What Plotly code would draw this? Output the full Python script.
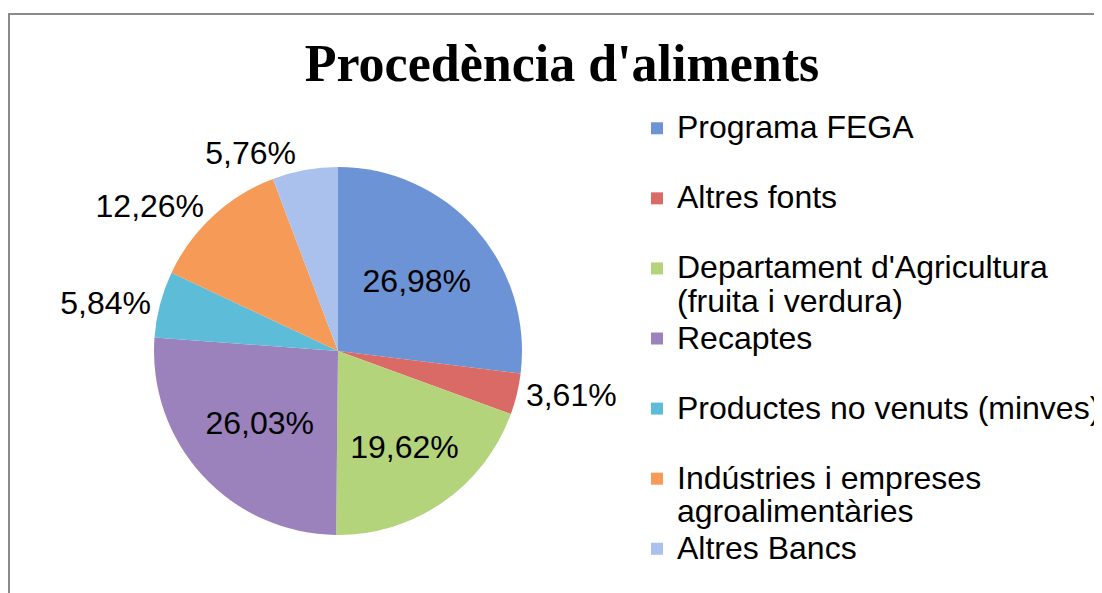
import plotly.graph_objects as go

categories = [
    "Programa FEGA",
    "Altres fonts",
    "Departament d'Agricultura (fruita i verdura)",
    "Recaptes",
    "Productes no venuts (minves)",
    "Indústries i empreses agroalimentàries",
    "Altres Bancs",
]
legend_lines = [
    ["Programa FEGA", " "],
    ["Altres fonts", " "],
    ["Departament d'Agricultura", "(fruita i verdura)"],
    ["Recaptes", " "],
    ["Productes no venuts (minves)", " "],
    ["Indústries i empreses", "agroalimentàries"],
    ["Altres Bancs"],
]
values = [26.98, 3.61, 19.62, 26.03, 5.84, 12.26, 5.76]
colors = ["#6c93d5", "#d96a66", "#b4d47c", "#9b82bc", "#5dbcd7", "#f59a57", "#a9c1ec"]
text_positions = ["inside", "outside", "inside", "inside", "outside", "outside", "outside"]

LEG_SPAN = "<span style='font-size:32px'>{}</span>"
legend_labels = ["<br>".join(LEG_SPAN.format(t) for t in lines) for lines in legend_lines]

W, H = 1102, 593
OFF = 8  # page offset of the figure
cx, cy, r = 338 - OFF, 351 - OFF, 184

fig = go.Figure(go.Pie(
    labels=legend_labels,
    values=values,
    sort=False,
    direction="clockwise",
    rotation=0,
    marker=dict(colors=colors, line=dict(width=0)),
    textinfo="text",
    texttemplate="%{value:.2f}%",
    textposition=text_positions,
    insidetextorientation="horizontal",
    textfont=dict(family="Liberation Sans, Arial", size=32, color="#000000"),
    domain=dict(x=[(cx - r) / W, (cx + r) / W], y=[(H - cy - r) / H, (H - cy + r) / H]),
    hovertext=categories,
    hoverinfo="text+value",
))

fig.update_layout(
    width=W, height=H,
    margin=dict(l=0, r=0, t=0, b=0, autoexpand=False),
    paper_bgcolor="white",
    separators=",.",
    title=dict(
        text="<b>Procedència d'aliments</b>",
        font=dict(family="Liberation Serif", size=52, color="#000000"),
        x=(562 - OFF) / W, xanchor="center", xref="paper",
        y=1 - 55 / H, yanchor="middle", yref="container",
    ),
    legend=dict(
        x=629 / W, xanchor="left",
        y=1 - 97 / H, yanchor="top",
        font=dict(family="Liberation Sans, Arial", size=25.8, color="#000000"),
        valign="top",
        bgcolor="rgba(0,0,0,0)",
    ),
    showlegend=True,
    shapes=[dict(
        type="rect", xref="paper", yref="paper",
        x0=1 / W, x1=1.05, y0=-0.05, y1=1 - 6 / H,
        line=dict(color="#8a8a8a", width=2), fillcolor="rgba(0,0,0,0)", layer="below",
    )],
)

fig.write_html("out.html")
